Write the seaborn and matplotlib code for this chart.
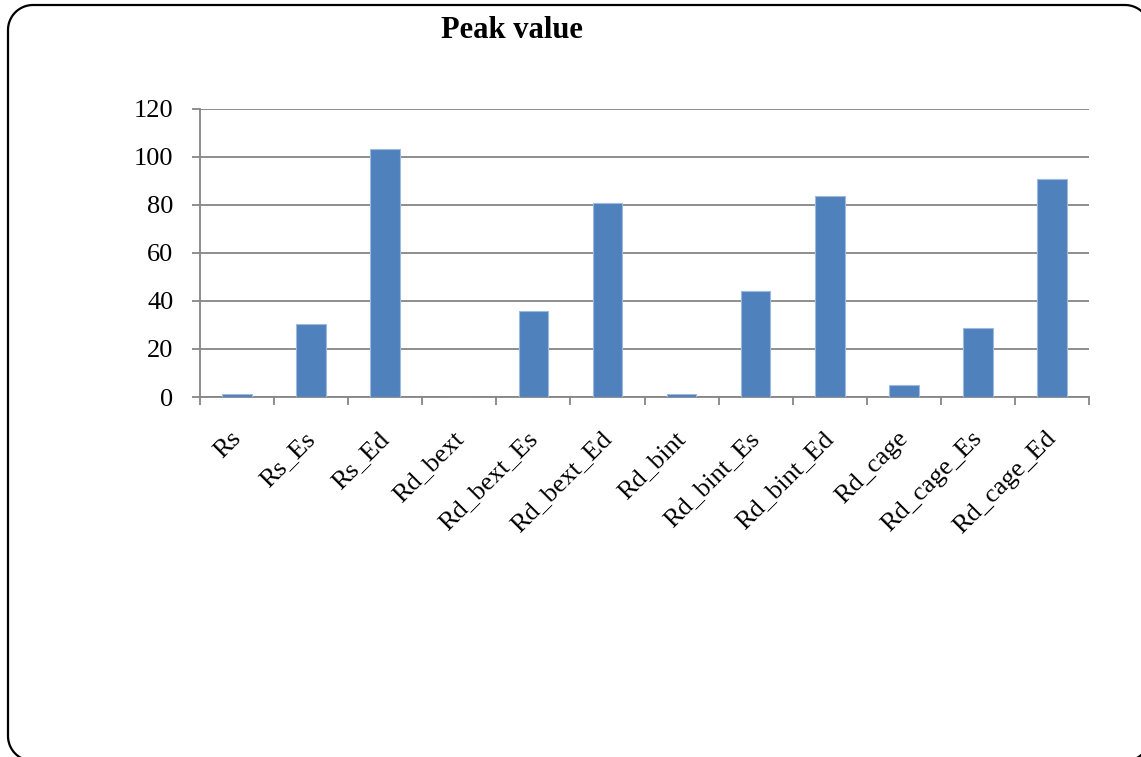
import matplotlib
matplotlib.use("Agg")
import matplotlib.pyplot as plt
import matplotlib.transforms as mtransforms
import numpy as np
import pandas as pd
import seaborn as sns
from matplotlib.lines import Line2D

# data
categories = ["Rs", "Rs_Es", "Rs_Ed", "Rd_bext", "Rd_bext_Es", "Rd_bext_Ed",
              "Rd_bint", "Rd_bint_Es", "Rd_bint_Ed", "Rd_cage", "Rd_cage_Es", "Rd_cage_Ed"]
peak_values = [1.2, 30.2, 103.1, 0.0, 35.8, 80.6, 1.2, 43.9, 83.6, 5.0, 28.5, 90.6]
y_ticks = [0, 20, 40, 60, 80, 100, 120]

df = pd.DataFrame({"case": categories, "peak": peak_values})

sns.set_style("white")
plt.rcParams["font.family"] = ["Liberation Serif", "DejaVu Serif"]
plt.rcParams["text.color"] = "black"
plt.rcParams["xtick.labelcolor"] = "black"
plt.rcParams["ytick.labelcolor"] = "black"

W, H = 1141, 757
fig = plt.figure(figsize=(W / 100, H / 100), dpi=100)
ax = fig.add_axes([200 / W, (H - 397) / H, (1089 - 200) / W, (397 - 108.5) / H])

sns.barplot(data=df, x="case", y="peak", color="#4F81BD", saturation=1,
            width=0.4, edgecolor="#9DB9DE", linewidth=0.8, ax=ax, zorder=3)

grid_col = "#868686"
ax.set_xlim(-0.5, len(categories) - 0.5)
ax.set_ylim(0, 120)
ax.set_yticks(y_ticks)
ax.set_yticklabels([str(v) for v in y_ticks], fontsize=19)
ax.yaxis.grid(True, color=grid_col, linewidth=1.3, zorder=0)
ax.set_axisbelow(True)

# category labels, with boundary ticks between them
ax.set_xticks(range(len(categories)))
ax.set_xticklabels(categories, fontsize=19, rotation=45, ha="right",
                   rotation_mode="anchor")
ax.tick_params(axis="x", which="major", bottom=True, length=0, pad=22)
ax.set_xticks([i - 0.5 for i in range(len(categories) + 1)], minor=True)
ax.tick_params(axis="x", which="minor", bottom=True, length=6, width=1.3,
               color=grid_col)
ax.tick_params(axis="y", left=True, length=6, width=1.3, color=grid_col, pad=13)

shift = mtransforms.ScaledTranslation(-5 / 72, 0, fig.dpi_scale_trans)
for lab in ax.get_xticklabels():
    lab.set_transform(lab.get_transform() + shift)

for side in ["top", "right"]:
    ax.spines[side].set_visible(False)
for side in ["left", "bottom"]:
    ax.spines[side].set_color(grid_col)
    ax.spines[side].set_linewidth(1.3)

ax.set_xlabel("")
ax.set_ylabel("")

fig.text(512 / W, 1 - 30 / H, "Peak value", ha="center", va="center",
         fontsize=22, fontweight="bold")

# rounded frame around the chart, in pixels (origin bottom-left)
x0, x1, y0, y1, r = 8, 1150, -4, H - 5, 25
pts = []
for cx, cy, a0 in [(x1 - r, y1 - r, 0), (x0 + r, y1 - r, 90),
                   (x0 + r, y0 + r, 180), (x1 - r, y0 + r, 270)]:
    t = np.radians(np.linspace(a0, a0 + 90, 20))
    pts += list(zip(cx + r * np.cos(t), cy + r * np.sin(t)))
pts.append(pts[0])
fx, fy = zip(*pts)
fig.add_artist(Line2D(fx, fy, transform=mtransforms.IdentityTransform(),
                      color="black", linewidth=1.6))

fig.savefig("out.png", dpi=100)
